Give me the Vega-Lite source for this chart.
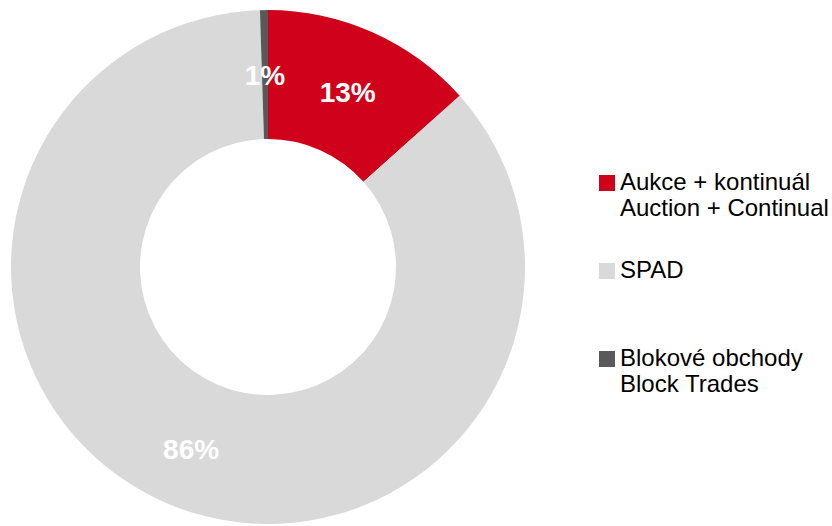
{
  "$schema": "https://vega.github.io/schema/vega-lite/v6.json",
  "width": 536,
  "height": 526,
  "padding": {"top": 4, "left": 0, "right": 0, "bottom": 0},
  "autosize": {"type": "pad"},
  "background": "white",
  "config": {"view": {"stroke": null}, "font": "Liberation Sans"},
  "data": {
    "values": [
      {"kat": "Aukce + kontinuál|Auction + Continual", "poradi": 1, "podil": 13.4, "popis": "13%"},
      {"kat": "SPAD", "poradi": 2, "podil": 86.1, "popis": "86%"},
      {"kat": "Blokové obchody|Block Trades", "poradi": 3, "podil": 0.5, "popis": "1%"}
    ]
  },
  "encoding": {
    "theta": {"field": "podil", "type": "quantitative", "stack": true},
    "order": {"field": "poradi", "type": "quantitative"},
    "color": {
      "field": "kat",
      "type": "nominal",
      "sort": ["Aukce + kontinuál|Auction + Continual", "SPAD", "Blokové obchody|Block Trades"],
      "scale": {
        "domain": ["Aukce + kontinuál|Auction + Continual", "SPAD", "Blokové obchody|Block Trades"],
        "range": ["#D0021B", "#D9D9D9", "#595959"]
      },
      "legend": {
        "title": null,
        "orient": "none",
        "legendX": 595,
        "legendY": 167,
        "columns": 1,
        "gridAlign": "all",
        "symbolType": "square",
        "symbolSize": 256,
        "symbolStrokeWidth": 0,
        "symbolOpacity": 1,
        "labelFont": "Liberation Sans",
        "labelFontSize": 24,
        "labelColor": "#000000",
        "labelLimit": 400,
        "labelOffset": 1,
        "rowPadding": 38,
        "labelExpr": "split(datum.label, '|')"
      }
    }
  },
  "layer": [
    {"mark": {"type": "arc", "innerRadius": 128, "outerRadius": 257}},
    {
      "mark": {"type": "text", "radius": 195, "dy": 5, "fontSize": 28, "fontWeight": "bold", "font": "Liberation Sans", "fill": "#FFFFFF"},
      "encoding": {"text": {"field": "popis"}, "color": {"value": "#FFFFFF"}}
    }
  ]
}
